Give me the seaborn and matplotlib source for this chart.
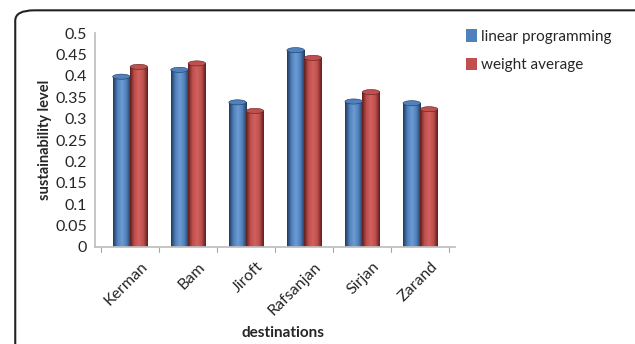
import numpy as np
import pandas as pd
import seaborn as sns
import matplotlib
matplotlib.use("Agg")
import matplotlib.pyplot as plt
from matplotlib.patches import FancyBboxPatch, Ellipse, Patch
from matplotlib.colors import LinearSegmentedColormap
from matplotlib.transforms import ScaledTranslation

destinations = ["Kerman", "Bam", "Jiroft", "Rafsanjan", "Sirjan", "Zarand"]
linear_programming = [0.398, 0.414, 0.338, 0.460, 0.340, 0.336]
weight_average = [0.421, 0.429, 0.318, 0.442, 0.362, 0.322]
series_names = ["linear programming", "weight average"]
y_ticks = [0, 0.05, 0.1, 0.15, 0.2, 0.25, 0.3, 0.35, 0.4, 0.45, 0.5]
y_tick_labels = ["0", "0.05", "0.1", "0.15", "0.2", "0.25", "0.3", "0.35", "0.4", "0.45", "0.5"]

df = pd.DataFrame({
    "destination": destinations * 2,
    "value": linear_programming + weight_average,
    "method": [series_names[0]] * len(destinations) + [series_names[1]] * len(destinations),
})

sns.set_theme(style="white")
plt.rcParams["font.family"] = ["Lato", "DejaVu Sans"]

colors = {"linear programming": "#4F81BD", "weight average": "#C0504D"}
dark = {"linear programming": "#1F3A5F", "weight average": "#5E1F1E"}
light = {"linear programming": "#6E9BD3", "weight average": "#D2625F"}

fig = plt.figure(figsize=(6.35, 3.44), dpi=100)
ax = fig.add_axes([0.150, 0.282, 0.567, 0.622])

sns.barplot(data=df, x="destination", y="value", hue="method", palette=colors,
            width=0.6, gap=0.0, ax=ax, legend=False, saturation=1)

# cylinder-like shading
for cont, name in zip(ax.containers, series_names):
    cmap = LinearSegmentedColormap.from_list(
        name, [dark[name], colors[name], light[name], colors[name], dark[name]])
    grad = np.linspace(0, 1, 64).reshape(1, -1)
    for p in cont.patches:
        x0, y0 = p.get_x(), p.get_y()
        w, h = p.get_width(), p.get_height()
        p.set_facecolor("none")
        p.set_edgecolor("none")
        im = ax.imshow(grad, cmap=cmap, extent=(x0, x0 + w, y0, y0 + h),
                       aspect="auto", zorder=2, interpolation="bilinear")
        im.set_clip_path(p)
        ax.add_patch(Ellipse((x0 + w / 2, y0 + h), w, 0.012,
                             facecolor=colors[name], edgecolor=dark[name],
                             linewidth=0.4, zorder=3))
ax.set_xlim(-0.6, 5.6)
ax.set_ylim(0, 0.5)

ax.set_yticks(y_ticks)
ax.set_yticklabels(y_tick_labels, fontsize=11.5)
ax.tick_params(axis="y", length=0, pad=6)

ax.set_xticks(range(len(destinations)))
ax.set_xticklabels(destinations, rotation=45, ha="right", rotation_mode="anchor", fontsize=11.5)
ax.tick_params(axis="x", length=0, pad=9)
shift = ScaledTranslation(10 / 100, 0, fig.dpi_scale_trans)
for lab in ax.get_xticklabels():
    lab.set_transform(lab.get_transform() + shift)
for b in np.arange(-0.5, 6.0, 1.0):
    ax.plot([b, b], [0, -0.012], color="#A6A6A6", lw=0.8, clip_on=False)

for s in ["top", "right"]:
    ax.spines[s].set_visible(False)
ax.spines["left"].set_color("#BFBFBF")
ax.spines["bottom"].set_color("#BFBFBF")

ax.set_ylabel("sustainability level", fontsize=10.5, fontweight="bold", labelpad=2)
ax.set_xlabel("")
fig.text(283 / 635, 1 - 333 / 344, "destinations", fontsize=11, fontweight="bold",
         ha="center", va="center")

handles = [Patch(facecolor=colors[n], edgecolor="none") for n in series_names]
fig.legend(handles, series_names, loc="upper left", bbox_to_anchor=(0.712, 0.955),
           frameon=False, fontsize=11, handlelength=0.7, handleheight=0.9,
           handletextpad=0.3, labelspacing=0.9)

fig.patches.append(FancyBboxPatch((0.024, -0.2), 1.2, 1.17,
                                  boxstyle="round,pad=0,rounding_size=0.03",
                                  transform=fig.transFigure, facecolor="none",
                                  edgecolor="#222222", linewidth=1.5))

fig.savefig("out.png", dpi=100)
